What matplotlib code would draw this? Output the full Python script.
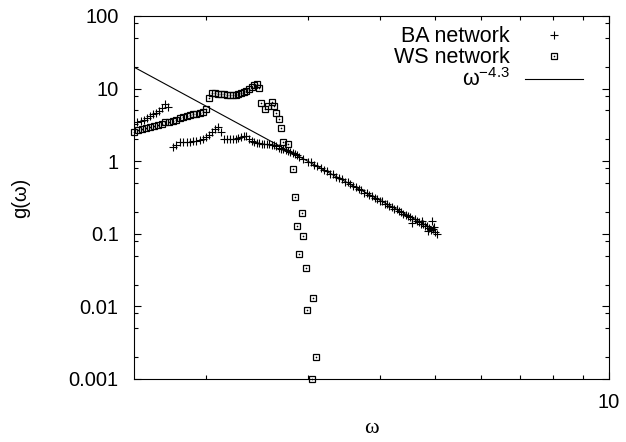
import numpy as np
import matplotlib
matplotlib.use("Agg")
import matplotlib.pyplot as plt
from matplotlib.ticker import LogLocator, FixedLocator, NullFormatter, FixedFormatter
from matplotlib.legend_handler import HandlerTuple

plt.rcParams['font.family'] = ['Liberation Sans', 'DejaVu Sans']
plt.rcParams['mathtext.fontset'] = 'custom'
plt.rcParams['mathtext.rm'] = 'Liberation Sans'

# ---------------- data ----------------
# BA network (plus markers)
ba_w = [1.50, 1.52, 1.54, 1.56, 1.58, 1.60, 1.62, 1.64, 1.66, 1.68, 1.70, 1.72,
        1.750, 1.775, 1.800, 1.825, 1.850, 1.875, 1.900, 1.925, 1.950, 1.975,
        2.000, 2.025, 2.050, 2.075, 2.100, 2.125, 2.150, 2.175, 2.200, 2.225,
        2.250, 2.275, 2.300, 2.325, 2.350, 2.375, 2.400, 2.425, 2.450, 2.475,
        2.500, 2.525, 2.550, 2.575, 2.600, 2.625, 2.650, 2.675, 2.700, 2.725,
        2.750, 2.775, 2.800, 2.825, 2.850, 2.875, 2.900, 2.95,
        3.00, 3.04, 3.08, 3.12, 3.16, 3.20, 3.24, 3.28, 3.32, 3.36, 3.40, 3.44,
        3.48, 3.52, 3.56, 3.60, 3.64, 3.68, 3.72, 3.76, 3.80, 3.84, 3.88, 3.92,
        3.96, 4.00, 4.04, 4.08, 4.12, 4.16, 4.20, 4.24, 4.28, 4.32, 4.36, 4.40,
        4.44, 4.48, 4.52, 4.56, 4.60, 4.64, 4.68, 4.72, 4.76, 4.80, 4.84, 4.88,
        4.92, 4.96, 5.00, 5.04,
        4.56, 4.74, 4.86, 4.93, 4.98]
ba_g = [3.30, 3.45, 3.60, 3.75, 3.95, 4.15, 4.40, 4.65, 4.95, 5.35, 6.10, 5.50,
        1.55, 1.68, 1.82, 1.85, 1.85, 1.86, 1.88, 1.92, 1.97, 2.05,
        2.15, 2.30, 2.50, 2.78, 2.92, 2.55, 2.05, 2.03, 2.03, 2.04,
        2.05, 2.08, 2.15, 2.20, 2.22, 2.05, 1.92, 1.86, 1.80, 1.76,
        1.74, 1.73, 1.72, 1.71, 1.69, 1.66, 1.60, 1.54, 1.49, 1.45,
        1.41, 1.37, 1.34, 1.30, 1.26, 1.21, 1.16, 1.08,
        0.99, 0.96, 0.88, 0.86, 0.80, 0.75, 0.73, 0.67, 0.66, 0.61, 0.58, 0.56,
        0.52, 0.51, 0.48, 0.45, 0.44, 0.41, 0.40, 0.37, 0.365, 0.34, 0.335, 0.31,
        0.305, 0.285, 0.28, 0.26, 0.258, 0.24, 0.237, 0.22, 0.22, 0.205, 0.20, 0.19,
        0.183, 0.176, 0.172, 0.160, 0.158, 0.150, 0.145, 0.135, 0.137, 0.128, 0.130, 0.120,
        0.113, 0.115, 0.105, 0.098,
        0.142, 0.150, 0.110, 0.148, 0.125]

# WS network (open squares with a centre dot)
ws_w = [1.500, 1.525, 1.550, 1.575, 1.600, 1.625, 1.650, 1.675, 1.700, 1.725,
        1.750, 1.775, 1.800, 1.825, 1.850, 1.875, 1.900, 1.925, 1.950, 1.975,
        2.000,
        2.025, 2.050, 2.075, 2.100, 2.125, 2.150, 2.175, 2.200, 2.225, 2.250,
        2.275, 2.300, 2.325, 2.350, 2.375, 2.400, 2.425, 2.450, 2.475,
        2.488, 2.527, 2.559, 2.600, 2.620, 2.641, 2.673, 2.695, 2.716, 2.771,
        2.828, 2.850, 2.931, 2.873, 2.943, 2.896, 2.979, 3.062, 2.991, 3.100,
        3.050]
ws_g = [2.52, 2.70, 2.82, 2.90, 2.96, 3.04, 3.15, 3.30, 3.42, 3.52,
        3.62, 3.75, 3.90, 4.05, 4.15, 4.30, 4.42, 4.52, 4.60, 4.75,
        5.25,
        7.40, 8.60, 8.60, 8.45, 8.35, 8.30, 8.25, 8.20, 8.20, 8.25,
        8.40, 8.70, 9.05, 9.40, 9.90, 10.5, 11.1, 11.5, 10.1,
        6.34, 5.24, 5.76, 6.54, 5.76, 4.61, 3.81, 2.87, 1.84, 1.73,
        0.78, 0.321, 0.193, 0.128, 0.0932, 0.0527, 0.0338, 0.0131, 0.00892, 0.00201,
        0.001]

# power-law guide  g = C * w^-4.3
fit_prefactor = 113.0
fit_exponent = -4.3
fit_range = [1.5, 5.0]

x_limits = [1.5, 10]
y_limits = [0.001, 100]
y_tick_values = [0.001, 0.01, 0.1, 1, 10, 100]
y_tick_labels = ['0.001', '0.01', '0.1', '1', '10', '100']
x_tick_values = [10]
x_tick_labels = ['10']
legend_labels = ['BA network', 'WS network', r'$\mathregular{\omega^{-4.3}}$']

# ---------------- figure ----------------
fig = plt.figure(figsize=(6.26, 4.42), dpi=100)
ax = fig.add_axes([134 / 626, 1 - 379 / 442, 475 / 626, 363 / 442])
ax.set_xscale('log')
ax.set_yscale('log')

h_ba, = ax.plot(ba_w, ba_g, ls='none', marker='+', ms=6, mew=0.8, color='black')
h_sq, = ax.plot(ws_w, ws_g, ls='none', marker='s', ms=5, mfc='none', mec='black',
                mew=0.9, clip_on=False)
h_dot, = ax.plot(ws_w, ws_g, ls='none', marker='o', ms=1.2, mew=0, color='black',
                 clip_on=False)
w_fit = np.geomspace(fit_range[0], fit_range[1], 200)
h_line, = ax.plot(w_fit, fit_prefactor * w_fit ** fit_exponent, color='black', lw=0.8)

ax.set_xlim(*x_limits)
ax.set_ylim(*y_limits)

ax.yaxis.set_major_locator(FixedLocator(y_tick_values))
ax.yaxis.set_major_formatter(FixedFormatter(y_tick_labels))
ax.yaxis.set_minor_locator(LogLocator(base=10, subs=(2.0, 5.0, 8.0)))
ax.yaxis.set_minor_formatter(NullFormatter())
ax.xaxis.set_major_locator(FixedLocator(x_tick_values))
ax.xaxis.set_major_formatter(FixedFormatter(x_tick_labels))
ax.xaxis.set_minor_locator(LogLocator(base=10, subs=np.arange(2, 10)))
ax.xaxis.set_minor_formatter(NullFormatter())

ax.tick_params(which='both', direction='in', top=True, right=True, width=0.8,
               colors='black', labelsize=14.5)
ax.tick_params(which='major', length=5)
ax.tick_params(which='minor', length=3)
ax.tick_params(axis='x', which='major', pad=10)
ax.tick_params(axis='y', which='major', pad=11)
for s in ax.spines.values():
    s.set_linewidth(0.8)

ax.set_xlabel('ω', fontsize=16, family=['Liberation Serif', 'DejaVu Serif'], labelpad=5)
ax.set_ylabel('g(ω)', fontsize=14.5, labelpad=28)

leg = ax.legend([h_ba, (h_sq, h_dot), h_line], legend_labels,
                handler_map={tuple: HandlerTuple(ndivide=1)},
                loc='upper right', bbox_to_anchor=(0.945, 0.972),
                markerfirst=False, frameon=False, fontsize=15.5,
                handlelength=2.7, handletextpad=0.7, labelspacing=0.0,
                borderpad=0, borderaxespad=0)

fig.savefig('out.png', dpi=100)
